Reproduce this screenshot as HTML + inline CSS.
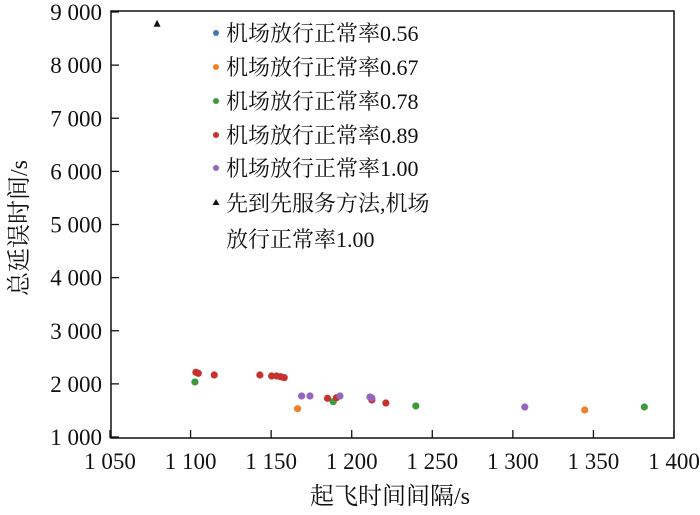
<!DOCTYPE html>
<html><head><meta charset="utf-8"><style>
body{margin:0;background:#fff}
svg text{font-family:"Liberation Serif","Noto Serif CJK SC",serif;fill:#111}
</style></head><body>
<svg id="c" width="700" height="510">
<g id="g"></g>
</svg>
<script>
const xTicks=[1050,1100,1150,1200,1250,1300,1350,1400];
const xTickLabels=["1 050","1 100","1 150","1 200","1 250","1 300","1 350","1 400"];
const yTicks=[1000,2000,3000,4000,5000,6000,7000,8000,9000];
const yTickLabels=["1 000","2 000","3 000","4 000","5 000","6 000","7 000","8 000","9 000"];
const seriesNames=["机场放行正常率0.56","机场放行正常率0.67","机场放行正常率0.78","机场放行正常率0.89","机场放行正常率1.00"];
const seriesColors=["#4c72b0","#f07f2a","#3e9a3a","#c8322e","#9467bd"];
const s056x=[],s056y=[];
const s067x=[1166.4,1344.6],s067y=[1533,1508];
const s078x=[1102.7,1188.5,1239.8,1381.6],s078y=[2036,1666,1584,1565];
const s089x=[1103.3,1104.8,1114.7,1143.0,1150.3,1153.4,1155.9,1158.1,1185.0,1190.6,1212.5,1221.2];
const s089y=[2218,2199,2167,2167,2148,2148,2135,2117,1728,1740,1697,1640];
const s100x=[1168.9,1174.1,1192.7,1211.3,1212.5,1307.4],s100y=[1772,1772,1772,1753,1734,1565];
const fcfsX=[1079.2],fcfsY=[8778];
const X0=110,X1=674,Y0=437,Y1=12;
const sx=v=>X0+(v-1050)/350*(X1-X0), sy=v=>Y0-(v-1000)/8000*(Y0-Y1);
const NS="http://www.w3.org/2000/svg",g=document.getElementById('g');
function mk(t,a,txt){const e=document.createElementNS(NS,t);for(const k in a)e.setAttribute(k,a[k]);if(txt!=null)e.textContent=txt;g.appendChild(e);return e;}
let e=mk('rect',{x:111,y:11,width:563,height:427,fill:'none',stroke:'#111','stroke-width':1.5});


xTicks.forEach((v,i)=>{
 e=mk('line',{x1:sx(v),x2:sx(v),y1:438,y2:430,stroke:'#111','stroke-width':1.3});
 
 
 e=mk('text',{x:sx(v),y:469,'text-anchor':'middle','font-size':23},xTickLabels[i]);
 
 
});
yTicks.forEach((v,i)=>{
 e=mk('line',{x1:111,x2:119,y1:sy(v),y2:sy(v),stroke:'#111','stroke-width':1.3});
 
 
 e=mk('text',{x:102,y:sy(v)+8,'text-anchor':'end','font-size':23},yTickLabels[i]);
 
 
});
e=mk('text',{x:390,y:504,'text-anchor':'middle','font-size':24},'起飞时间间隔/s');


e=mk('text',{x:0,y:0,'text-anchor':'middle','font-size':24,transform:'translate(27,228) rotate(-90)'},'总延误时间/s');


const all=[[s056x,s056y],[s067x,s067y],[s078x,s078y],[s089x,s089y],[s100x,s100y]];
all.forEach((s,k)=>{s[0].forEach((x,i)=>{
 e=mk('circle',{cx:sx(x),cy:sy(s[1][i]),r:3.6,fill:seriesColors[k]});
 
 
});});
fcfsX.forEach((x,i)=>{const cx=sx(x),cy=sy(fcfsY[i]);
 e=mk('polygon',{points:`${cx},${cy-4} ${cx-3.5},${cy+3} ${cx+3.5},${cy+3}`,fill:'#111'});
 
 
});
const ly=[33,67,101,135,168];
seriesNames.forEach((n,k)=>{
 e=mk('circle',{cx:216,cy:ly[k],r:3,fill:seriesColors[k]});
 
 
 e=mk('text',{x:226,y:ly[k]+8,'font-size':22},n);
 
 
});
e=mk('polygon',{points:'216,199 212.5,205 219.5,205',fill:'#111'});


e=mk('text',{x:226,y:211,'font-size':22},'先到先服务方法,机场');


e=mk('text',{x:226,y:247,'font-size':22},'放行正常率1.00');


</script>
</body></html>
